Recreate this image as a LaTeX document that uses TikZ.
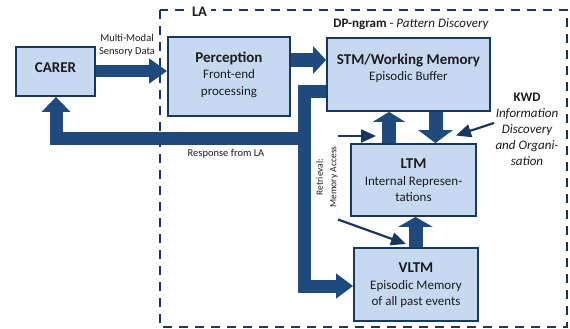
\documentclass[tikz,border=0pt]{standalone}
\usepackage{fontspec}
\setmainfont{Carlito}
\usetikzlibrary{arrows.meta}
\definecolor{boxfill}{RGB}{198,217,241}
\definecolor{boxline}{RGB}{24,56,96}
\definecolor{flow}{RGB}{31,74,126}
\definecolor{inktext}{RGB}{28,28,28}
\begin{document}
\begin{tikzpicture}[x=1pt,y=-1pt,
  box/.style={draw=boxline, line width=1.8pt, fill=boxfill, inner sep=0pt},
  boxtext/.style={align=center, font=\fontsize{13}{16.5}\selectfont, inner sep=0pt, text=inktext},
  ttl/.style={font=\fontsize{15}{17}\selectfont\bfseries},
  small/.style={font=\fontsize{10.5}{13.5}\selectfont, inner sep=0pt, text=inktext, align=center},
  bigarrow/.style={draw=flow, line width=13pt, line join=miter},
  thinarrow/.style={draw=boxline, line width=2.2pt, -{Triangle[width=13pt,length=15pt]}}]

% canvas
\fill[white] (0,0) rectangle (570,329);
\useasboundingbox (0,0) rectangle (570,329);

% LA frame
\draw[boxline, line width=2pt, dash pattern=on 9pt off 7pt] (160,10) rectangle (567,327);
\node[fill=white, inner xsep=4pt, inner ysep=1pt, font=\fontsize{14.5}{16}\selectfont\bfseries, text=inktext] (la) at (199.5,12) {LA};

% blocks
\node[box, minimum width=79pt, minimum height=49pt] (carer) at (55.5,71.5) {};
\node[box, minimum width=122pt, minimum height=79pt] (perception) at (229,76.5) {};
\node[box, minimum width=163pt, minimum height=73pt] (stm) at (408.5,74.5) {};
\node[box, minimum width=125pt, minimum height=72pt] (ltm) at (413.5,180) {};
\node[box, minimum width=124pt, minimum height=73pt] (vltm) at (416,284.5) {};

% block texts
\node[boxtext, ttl] (carertxt) at (55.5,67.5) {CARER};
\node[boxtext] (perctxt) at (229,74.5) {{\fontsize{15}{17}\selectfont\bfseries Perception}\\Front-end\\processing};
\node[boxtext] (stmtxt) at (408.5,68.5) {{\fontsize{15}{17}\selectfont\bfseries STM/Working Memory}\\Episodic Buffer};
\node[boxtext] (ltmtxt) at (413.5,180.5) {{\fontsize{15}{17}\selectfont\bfseries LTM}\\Internal Represen-\\tations};
\node[boxtext] (vltmtxt) at (416,285.5) {{\fontsize{15}{17}\selectfont\bfseries VLTM}\\Episodic Memory\\of all past events};

% headings and labels
\node[boxtext] (dp) at (411,24) {\textbf{DP-ngram} - \textit{Pattern Discovery}};
\node[boxtext, font=\fontsize{13}{16}\selectfont] (kwd) at (527,129) {\textbf{KWD}\\\itshape Information\\\itshape Discovery\\\itshape and Organi-\\\itshape sation};
\node[small] (sensory) at (127,45) {Multi-Modal\\Sensory Data};
\node[small] (response) at (226,154) {Response from LA};
\node[small, font=\fontsize{9.5}{13.5}\selectfont, rotate=90] (retrieval) at (327,177) {Retrieval:\\Memory Access};

% thick flows
\draw[bigarrow, line width=12pt, -{Triangle[width=24pt,length=18pt]}]
  (carer.east |- 0,71) -- (perception.west |- 0,71);
\draw[bigarrow, line width=14pt, -{Triangle[width=27pt,length=13pt]}]
  (perception.east |- 0,60) -- (stm.west |- 0,60);
\draw[bigarrow, -{Triangle[width=24pt,length=17pt]}]
  (stm.west |- 0,91.5) -- (304,91.5) -- (304,286) -- (vltm.west |- 0,286);
\draw[bigarrow, -{Triangle[width=28pt,length=15pt]}]
  (304,138.5) -- (56,138.5) -- (carer.south -| 56,0);
\draw[bigarrow, line width=14pt, -{Triangle[width=32pt,length=10pt]}]
  (ltm.north -| 389,0) -- (stm.south -| 389,0);
\draw[bigarrow, line width=14pt, -{Triangle[width=34pt,length=13pt]}]
  (stm.south -| 435.5,0) -- (ltm.north -| 435.5,0);
\draw[bigarrow, line width=14pt, -{Triangle[width=34pt,length=10pt]}]
  (vltm.north -| 415.5,0) -- (ltm.south -| 415.5,0);

% thin pointers
\coordinate (intail) at (338,136);
\coordinate (intip) at (376,136);
\coordinate (kwdtail) at (494,123);
\coordinate (kwdtip) at (456,135.5);
\coordinate (rettail) at (338,219.5);
\coordinate (rettip) at (406,244);
\draw[thinarrow] (intail) -- (intip);
\draw[thinarrow] (kwdtail) -- (kwdtip);
\draw[thinarrow] (rettail) -- (rettip);
\end{tikzpicture}
\end{document}
